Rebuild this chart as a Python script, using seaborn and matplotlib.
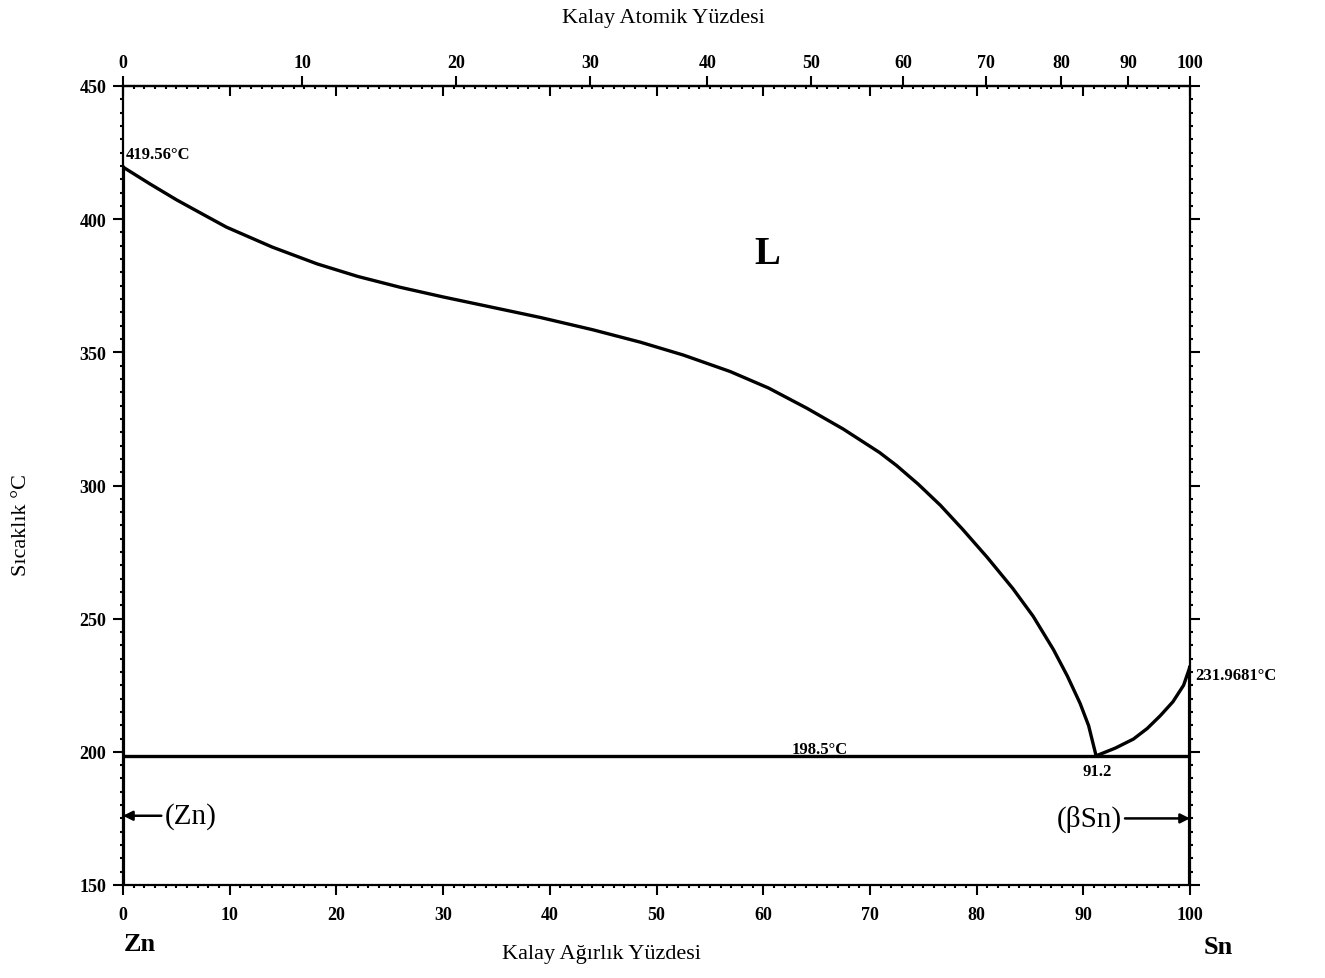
import numpy as np
import matplotlib
matplotlib.use("Agg")
import matplotlib.pyplot as plt
from matplotlib.ticker import MultipleLocator, FixedLocator
import seaborn as sns

# ---- data ----
liq_zn_wt = [0, 2.5, 5, 7.5, 9.7, 14, 18.2, 22, 26, 30, 34.5, 39.1, 44, 48.5, 52.5, 56.9,
             60.5, 64.1, 67.5, 70.9, 72.5, 74.5, 76.6, 78.7, 81, 83.4, 85.3, 87.2, 88.5,
             89.7, 90.5, 91.2]
liq_zn_T = [419.56, 413.3, 407.3, 401.8, 397.0, 389.5, 383.2, 378.5, 374.4, 370.8, 367.0,
            363.1, 358.5, 353.8, 349.0, 342.8, 336.6, 329.0, 321.2, 312.4, 307.5, 300.6,
            292.6, 283.5, 273.0, 261.3, 250.9, 238.4, 228.5, 218.2, 209.8, 198.5]
liq_sn_wt = [91.2, 93.0, 94.7, 96.0, 97.2, 98.4, 99.4, 100]
liq_sn_T = [198.5, 201.4, 204.8, 208.8, 213.5, 218.8, 225.0, 231.9681]
eut_wt = [0, 100]
eut_T = [198.5, 198.5]
zn_wt = [0, 0]
zn_T = [150, 419.56]
sn_wt = [100, 100]
sn_T = [150, 231.9681]
wt_ticks = [0, 10, 20, 30, 40, 50, 60, 70, 80, 90, 100]
at_ticks = [0, 10, 20, 30, 40, 50, 60, 70, 80, 90, 100]
T_ticks = [150, 200, 250, 300, 350, 400, 450]

M_SN, M_ZN = 118.71, 65.38

def wt2at(w):
    w = np.asarray(w, dtype=float)
    w = np.clip(w, 1e-9, 100 - 1e-9)
    return (w / M_SN) / (w / M_SN + (100 - w) / M_ZN) * 100

def at2wt(a):
    a = np.asarray(a, dtype=float)
    a = np.clip(a, 1e-9, 100 - 1e-9)
    return (a * M_SN) / (a * M_SN + (100 - a) * M_ZN) * 100

sns.set_theme(style="white")
plt.rcParams['font.family'] = ['Liberation Serif', 'DejaVu Serif']
plt.rcParams['text.color'] = 'black'
plt.rcParams['xtick.color'] = 'black'
plt.rcParams['ytick.color'] = 'black'
plt.rcParams['axes.edgecolor'] = 'black'

fig = plt.figure(figsize=(13.25, 9.79), dpi=100)
ax = fig.add_axes([123/1325, 1-886/979, (1190-123)/1325, (886-87)/979])

lw = 2.4
kw = dict(color='black', linewidth=lw, sort=False, estimator=None, ax=ax, legend=False)
for xs, ys, w in [(liq_zn_wt, liq_zn_T, lw), (liq_sn_wt, liq_sn_T, lw), (eut_wt, eut_T, lw),
                  (zn_wt, zn_T, 3), (sn_wt, sn_T, 3)]:
    sns.lineplot(x=xs, y=ys, **dict(kw, linewidth=w))
for ln in ax.get_lines():
    ln.set_solid_joinstyle('round')
    ln.set_solid_capstyle('round')

ax.set_xlim(0, 100)
ax.set_ylim(150, 450)
ax.set_xlabel('')
ax.set_ylabel('')
for s in ax.spines.values():
    s.set_color('black')
    s.set_linewidth(1.6)

ax.xaxis.set_major_locator(FixedLocator(wt_ticks))
ax.xaxis.set_minor_locator(MultipleLocator(1))
ax.yaxis.set_major_locator(FixedLocator(T_ticks))
ax.yaxis.set_minor_locator(MultipleLocator(5))
ax.tick_params(axis='x', which='both', bottom=True, top=True, direction='out')
ax.tick_params(axis='x', which='major', length=7, width=1.5, pad=8, labelsize=13)
ax.tick_params(axis='x', which='minor', length=2.5, width=1.5)
ax.tick_params(axis='y', which='both', left=True, right=True, direction='out')
ax.tick_params(axis='y', which='major', length=7, width=1.5, pad=5, labelsize=13)
ax.tick_params(axis='y', which='minor', length=2.5, width=1.5)
for lab in ax.get_xticklabels() + ax.get_yticklabels():
    lab.set_fontweight('bold')

# top wt ticks point inward
for t in ax.xaxis.get_major_ticks() + ax.xaxis.get_minor_ticks():
    t.tick2line.set_marker(3)

secax = ax.secondary_xaxis('top', functions=(wt2at, at2wt))
secax.xaxis.set_major_locator(FixedLocator(at_ticks))
secax.tick_params(axis='x', which='major', direction='out', length=7, width=1.5, pad=4,
                  labelsize=13, colors='black')
secax.spines['top'].set_linewidth(1.6)
for lab in secax.get_xticklabels():
    lab.set_fontweight('bold')

# annotations
ax.text(0.3, 424.5, '419.56°C', fontsize=12, fontweight='bold', ha='left', va='center')
ax.text(100.5, 229, '231.9681°C', fontsize=12, fontweight='bold', ha='left', va='center',
        clip_on=False)
ax.text(65.3, 201, '198.5°C', fontsize=12, fontweight='bold', ha='center', va='center')
ax.text(91.3, 192.8, '91.2', fontsize=12, fontweight='bold', ha='center', va='center')
ax.text(60.4, 387, 'L', fontsize=28, fontweight='bold', ha='center', va='center')

arrow = dict(arrowstyle='-|>', color='black', lw=1.8, mutation_scale=14, shrinkA=0, shrinkB=0)
ax.annotate('(Zn)', xy=(0, 176), xytext=(3.9, 176), fontsize=21, ha='left', va='center',
            arrowprops=arrow)
ax.annotate('(βSn)', xy=(100, 175), xytext=(93.6, 175), fontsize=21, ha='right', va='center',
            arrowprops=arrow)

fig.text(663/1325, 1-18/979, 'Kalay Atomik Yüzdesi', fontsize=16, ha='center', va='center')
fig.text(602/1325, 1-955/979, 'Kalay Ağırlık Yüzdesi', fontsize=16, ha='center', va='center')
fig.text(22/1325, 1-525/979, 'Sıcaklık °C', fontsize=16, ha='center', va='center', rotation=90)
fig.text(140/1325, 1-945/979, 'Zn', fontsize=19, fontweight='bold', ha='center', va='center')
fig.text(1218/1325, 1-948/979, 'Sn', fontsize=19, fontweight='bold', ha='center', va='center')

fig.savefig('out.png', dpi=100, facecolor='white')
